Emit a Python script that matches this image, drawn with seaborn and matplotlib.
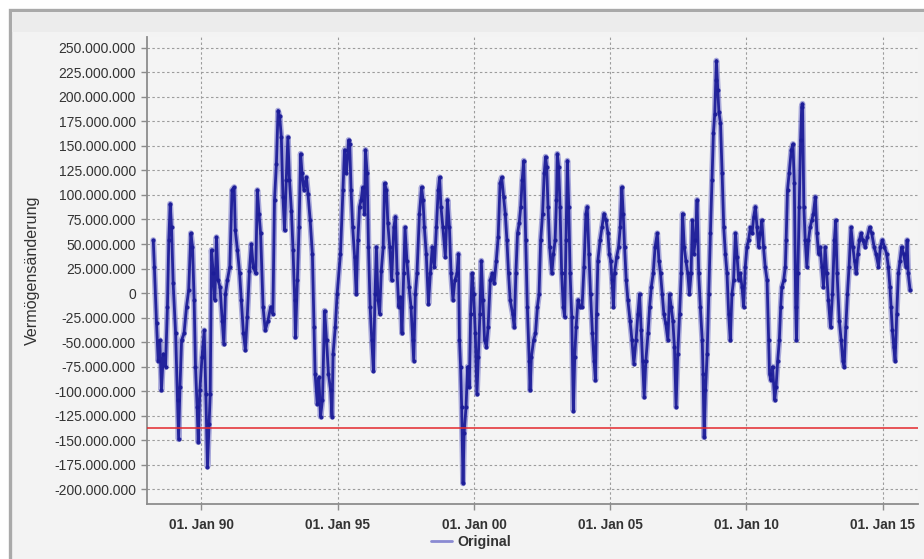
import numpy as np
import pandas as pd
import matplotlib
matplotlib.use("Agg")
import matplotlib.pyplot as plt
import seaborn as sns
from matplotlib.patches import Rectangle
from matplotlib.lines import Line2D
from matplotlib.ticker import FuncFormatter, FixedLocator

sns.set_theme(style="white")
plt.rcParams['font.family'] = ['Liberation Sans', 'DejaVu Sans']

# ---------------- data (decimal year, change in Mio.) ----------------
years_1988_1994 = [1988.23, 1988.27, 1988.35, 1988.41, 1988.47, 1988.53, 1988.60, 1988.68, 1988.75, 1988.80,
                   1988.85, 1988.90, 1988.96,
                   1989.05, 1989.12, 1989.16, 1989.21, 1989.27, 1989.36, 1989.45, 1989.53, 1989.61, 1989.67,
                   1989.73, 1989.78, 1989.84, 1989.88, 1989.94,
                   1990.02, 1990.10, 1990.16, 1990.22, 1990.28, 1990.32, 1990.37, 1990.43, 1990.49, 1990.55,
                   1990.61, 1990.68, 1990.76, 1990.82, 1990.88, 1990.95,
                   1991.04, 1991.12, 1991.20, 1991.24, 1991.32, 1991.40, 1991.46, 1991.54, 1991.61, 1991.68,
                   1991.76, 1991.83, 1991.90, 1991.99,
                   1992.05, 1992.11, 1992.17, 1992.26, 1992.34, 1992.44, 1992.54, 1992.62, 1992.68, 1992.75,
                   1992.81, 1992.87, 1992.93, 1992.99,
                   1993.05, 1993.11, 1993.17, 1993.23, 1993.30, 1993.36, 1993.42, 1993.45, 1993.52, 1993.58,
                   1993.64, 1993.69, 1993.76, 1993.85, 1993.91, 1993.99,
                   1994.07, 1994.13, 1994.17, 1994.25, 1994.31, 1994.37, 1994.44, 1994.52, 1994.59, 1994.66,
                   1994.74, 1994.79, 1994.83, 1994.91, 1994.98]
values_1988_1994 = [54, 27, -31, -69, -48, -99, -62, -75, -14, 54,
                    91, 67, 10, -41, -109, -149, -96, -48, -41, -14,
                    3, 61, 47, -7, -75, -116, -152, -99, -65, -38,
                    -103, -177, -133, -103, 44, 20, -7, 57, 13, 6,
                    -28, -52, -1, 13, 27, 105, 108, 64, 44, 20,
                    -7, -41, -58, -24, 23, 50, 27, 20, 105, 81,
                    61, -14, -38, -28, -14, -21, 95, 132, 186, 180,
                    159, 98, 64, 115, 159, 115, 84, 44, -7, -45,
                    13, 67, 142, 122, 105, 118, 101, 74, 40, -35,
                    -82, -113, -86, -126, -109, -18, -48, -82, -99, -126,
                    -62, -35, -1]

years_1995_2001 = [1995.10, 1995.19, 1995.25, 1995.32, 1995.40, 1995.44, 1995.49, 1995.55, 1995.62, 1995.68,
                   1995.74, 1995.80, 1995.86, 1995.92, 1995.98,
                   1996.02, 1996.08, 1996.13, 1996.19, 1996.25, 1996.31, 1996.37, 1996.42, 1996.48, 1996.54,
                   1996.60, 1996.67, 1996.72, 1996.79, 1996.84, 1996.91, 1996.98,
                   1997.06, 1997.12, 1997.18, 1997.24, 1997.30, 1997.36, 1997.42, 1997.47, 1997.54, 1997.62,
                   1997.69, 1997.75, 1997.79, 1997.85, 1997.91,
                   1998.00, 1998.08, 1998.13, 1998.18, 1998.25, 1998.33, 1998.40, 1998.47, 1998.55, 1998.62,
                   1998.69, 1998.74, 1998.79, 1998.86, 1998.95,
                   1999.03, 1999.10, 1999.16, 1999.23, 1999.30, 1999.38, 1999.43, 1999.47, 1999.51, 1999.55,
                   1999.60, 1999.64, 1999.71, 1999.77, 1999.83, 1999.88, 1999.93, 1999.99,
                   2000.05, 2000.11, 2000.16, 2000.22, 2000.27, 2000.33, 2000.39, 2000.46, 2000.52, 2000.60,
                   2000.67, 2000.74, 2000.82, 2000.89, 2000.96,
                   2001.02, 2001.09, 2001.15, 2001.21, 2001.27, 2001.33, 2001.42, 2001.48, 2001.54, 2001.60,
                   2001.66, 2001.72, 2001.77, 2001.83]
values_1995_2001 = [40, 105, 146, 122, 156, 152, 105, 67, 37, -1, 54, 88, 95, 108, 81,
                    146, 122, 47, -14, -48, -79, -1, 47, -7, -21, 23, 47, 112, 105, 71, 47, 13,
                    67, 78, 20, -14, -4, -41, 20, 67, 33, 6, -14, -48, -69, -1, 20,
                    81, 108, 95, 67, 40, -11, 20, 47, 27, 67, 105, 118, 88, 67, 37,
                    95, 67, 20, -7, 13, 20, 40, -48, -75, -116, -194, -143, -116, -75, -96, -21, 20, -1,
                    -41, -103, -65, -21, 33, -7, -48, -55, -35, 13, 20, 10, 33, 57, 112,
                    118, 98, 81, 54, 20, -7, -21, -35, 20, 61, 71, 88, 115, 135]

years_2002_2008 = [2001.90, 2001.96,
                   2002.03, 2002.06, 2002.11, 2002.19, 2002.26, 2002.33, 2002.39, 2002.45, 2002.52, 2002.58,
                   2002.63, 2002.67, 2002.72, 2002.78, 2002.86, 2002.92, 2002.98,
                   2003.03, 2003.06, 2003.11, 2003.16, 2003.22, 2003.28, 2003.33, 2003.38, 2003.43, 2003.48,
                   2003.53, 2003.59, 2003.65, 2003.70, 2003.75, 2003.82, 2003.89, 2003.97,
                   2004.04, 2004.11, 2004.16, 2004.22, 2004.28, 2004.35, 2004.41, 2004.46, 2004.50, 2004.55,
                   2004.63, 2004.70, 2004.77, 2004.85, 2004.92, 2004.97,
                   2005.02, 2005.07, 2005.12, 2005.16, 2005.24, 2005.31, 2005.37, 2005.43, 2005.48, 2005.53,
                   2005.59, 2005.65, 2005.73, 2005.80, 2005.87, 2005.95,
                   2006.02, 2006.08, 2006.14, 2006.19, 2006.25, 2006.31, 2006.39, 2006.45, 2006.51, 2006.58,
                   2006.65, 2006.73, 2006.79, 2006.85, 2006.91, 2006.97,
                   2007.04, 2007.12, 2007.18, 2007.24, 2007.30, 2007.36, 2007.42, 2007.48, 2007.55, 2007.61,
                   2007.66, 2007.72, 2007.78, 2007.85, 2007.91, 2007.97,
                   2008.02, 2008.07, 2008.13, 2008.19, 2008.25, 2008.31, 2008.38, 2008.41, 2008.45, 2008.50,
                   2008.56, 2008.62, 2008.68, 2008.74, 2008.79, 2008.84, 2008.88, 2008.90, 2008.95, 2008.99]
values_2002_2008 = [54, -14,
                    -69, -99, -65, -48, -41, -14, -1, 54, 81, 122, 139, 129, 88, 47, 20, 40, 54,
                    95, 142, 129, 88, 20, -14, -24, 54, 135, 88, 20, -24, -120, -65, -35, -7, -14, -14,
                    27, 81, 88, 40, -1, -41, -69, -89, -21, 33, 54, 67, 81, 74, 61, 40,
                    33, 13, -14, 20, 37, 47, 67, 108, 81, 47, 13, -7, -28, -48, -72, -48,
                    -21, -1, -38, -69, -106, -69, -41, -14, 6, 20, 47, 61, 33, 20, -1, -21,
                    -31, -48, -1, -14, -28, -55, -116, -62, -21, 20, 81, 47, 33, 20, -1, 20,
                    74, 40, 54, 95, 20, -14, -48, -82, -147, -99, -62, -1, 61, 115, 163, 183, 217, 237, 207, 185]

years_2009_2016 = [2009.05, 2009.11, 2009.17, 2009.23, 2009.29, 2009.35, 2009.41, 2009.47, 2009.53, 2009.60,
                   2009.66, 2009.72, 2009.78, 2009.84, 2009.90, 2009.96,
                   2010.02, 2010.08, 2010.15, 2010.21, 2010.27, 2010.33, 2010.39, 2010.45, 2010.51, 2010.57,
                   2010.63, 2010.69, 2010.76, 2010.82, 2010.85, 2010.90, 2010.96,
                   2011.04, 2011.09, 2011.15, 2011.21, 2011.26, 2011.30, 2011.37, 2011.43, 2011.46, 2011.51,
                   2011.57, 2011.65, 2011.71, 2011.76, 2011.81, 2011.84, 2011.89, 2011.94, 2011.99,
                   2012.03, 2012.06, 2012.11, 2012.16, 2012.22, 2012.28, 2012.34, 2012.40, 2012.46, 2012.53,
                   2012.59, 2012.65, 2012.71, 2012.77, 2012.83, 2012.89, 2012.95,
                   2013.01, 2013.09, 2013.16, 2013.23, 2013.28, 2013.33, 2013.41, 2013.48, 2013.54, 2013.59,
                   2013.65, 2013.71, 2013.77, 2013.84, 2013.91, 2013.97,
                   2014.03, 2014.09, 2014.15, 2014.21, 2014.27, 2014.36, 2014.44, 2014.52, 2014.60, 2014.69,
                   2014.76, 2014.85, 2014.92, 2014.99,
                   2015.07, 2015.15, 2015.21, 2015.27, 2015.31, 2015.36, 2015.41, 2015.46, 2015.52, 2015.58,
                   2015.64, 2015.70, 2015.77, 2015.85, 2015.90, 2015.94, 2016.01]
values_2009_2016 = [173, 122, 67, 40, 20, -21, -48, -1, 13, 61, 37, 13, 20, 6, -14, 27,
                    47, 54, 67, 61, 78, 88, 67, 47, 61, 74, 47, 27, 13, -48, -82, -89, -75,
                    -109, -96, -69, -48, -14, 6, 13, 27, 54, 105, 122, 146, 152, 112, -14, -48, 20, 88, 156,
                    190, 193, 88, 54, 27, 54, 67, 74, 81, 98, 61, 40, 47, 27, 6, 47, 20,
                    -7, -35, -1, 54, 74, 20, -28, -48, -69, -75, -35, -1, 27, 67, 47, 33,
                    20, 40, 54, 61, 54, 47, 57, 67, 61, 47, 40, 27, 47, 54,
                    47, 40, 27, 6, -14, -38, -55, -69, -21, 20, 33, 47, 40, 27, 54, 20, 3]

threshold_mio = -138
y_ticks_mio = list(range(-200, 251, 25))
x_tick_years = [1990, 1995, 2000, 2005, 2010, 2015]
x_tick_labels = ["01. Jan 90", "01. Jan 95", "01. Jan 00", "01. Jan 05", "01. Jan 10", "01. Jan 15"]
series_label = "Original"
y_label = "Vermögensänderung"

years = years_1988_1994 + years_1995_2001 + years_2002_2008 + years_2009_2016
values = values_1988_1994 + values_1995_2001 + values_2002_2008 + values_2009_2016
assert len(years) == len(values)
df = pd.DataFrame({"Jahr": years, "Wert": np.array(values, dtype=float) * 1e6})

# ---------------- figure ----------------
W, H = 924, 559
fig = plt.figure(figsize=(W / 100, H / 100), dpi=100, facecolor="white")
fig.patches.append(Rectangle((10 / W, -0.02), 1.0, (H - 10) / H + 0.02, transform=fig.transFigure,
                             facecolor="#f3f3f3", edgecolor="#a9a9a9", linewidth=2.4, zorder=-10))
fig.patches.append(Rectangle((12 / W, 1 - 32 / H), 1.0, 20 / H, transform=fig.transFigure,
                             facecolor="#ececec", edgecolor="none", zorder=-9))

ax = fig.add_axes([147 / W, 1 - 504 / H, (918 - 147) / W, (504 - 37) / H])
ax.set_zorder(1)
ax.set_facecolor("#f4f4f4")

# soft halo under the series (mimics the blurred, dense daily trace)
sns.lineplot(data=df, x="Jahr", y="Wert", ax=ax, color="#6a6ac4", linewidth=4.2,
             sort=False, estimator=None, legend=False, alpha=0.55, zorder=2)
sns.lineplot(data=df, x="Jahr", y="Wert", ax=ax, color="#1d1d98", linewidth=2.0,
             sort=False, estimator=None, legend=False, marker="o", markersize=3.0,
             markeredgewidth=0, alpha=0.95, zorder=3)
ax.axhline(threshold_mio * 1e6, color="#e4282c", linewidth=1.1, zorder=4)

ax.set_xlim(1988.0, 2016.3)
ax.set_ylim(-215e6, 261e6)
ax.yaxis.set_major_locator(FixedLocator([v * 1e6 for v in y_ticks_mio]))
ax.yaxis.set_major_formatter(FuncFormatter(lambda v, p: f"{int(round(v)):,}".replace(",", ".")))
ax.set_xticks(x_tick_years)
ax.set_xticklabels(x_tick_labels, fontweight="bold")

ax.grid(True, color="#9c9c9c", linestyle=(0, (2.2, 2.2)), linewidth=0.8)
ax.set_axisbelow(True)
for s in ["top", "right"]:
    ax.spines[s].set_visible(False)
for s in ["left", "bottom"]:
    ax.spines[s].set_color("#8c8c8c")
    ax.spines[s].set_linewidth(1.3)
ax.tick_params(axis="both", which="major", length=4, width=1, color="#8c8c8c",
               labelcolor="#333333", left=True, bottom=True)
ax.tick_params(axis="y", labelsize=10, pad=4)
ax.tick_params(axis="x", labelsize=9.8, pad=6)

ax.set_xlabel("")
ax.set_ylabel(y_label, fontsize=11.6, color="#333333")
ax.yaxis.set_label_coords((40 - 147) / (918 - 147), 0.5)

fig.legend(handles=[Line2D([], [], color="#8a8ad2", linewidth=2)], labels=[series_label],
           loc="center", bbox_to_anchor=(471 / W, 1 - 542 / H), frameon=False,
           prop={"size": 10.2, "weight": "bold"}, handlelength=1.5, handletextpad=0.4,
           labelcolor="#333333")

fig.savefig("out.png", dpi=100, facecolor=fig.get_facecolor())
